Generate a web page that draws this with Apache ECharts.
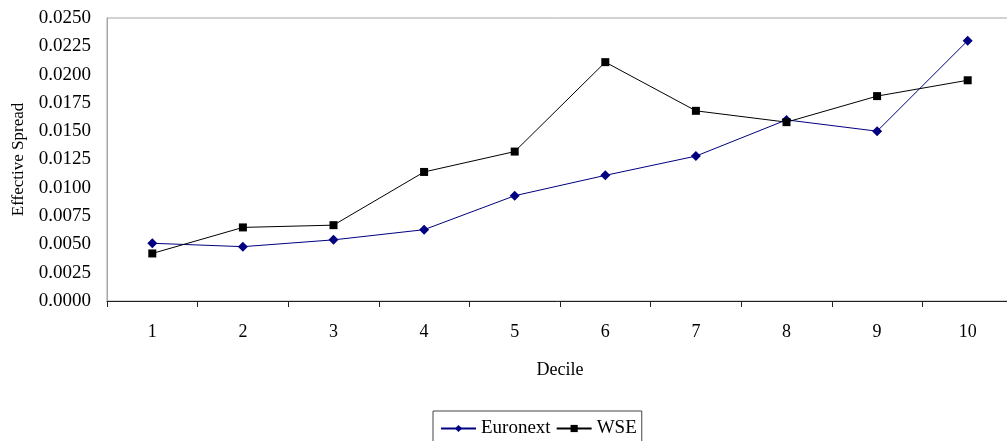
<!DOCTYPE html>
<html>
<head>
<meta charset="utf-8">
<script src="https://cdn.jsdelivr.net/npm/echarts@6/dist/echarts.min.js"></script>
<style>
html,body{margin:0;padding:0;background:#fff;}
#chart{width:1007px;height:441px;}
</style>
</head>
<body>
<div id="chart"></div>
<script>
var categories = ['1','2','3','4','5','6','7','8','9','10'];
var euronext = [0.0051, 0.0048, 0.0054, 0.0063, 0.0093, 0.0111, 0.0128, 0.0160, 0.0150, 0.0230];
var wse = [0.0042, 0.0065, 0.0067, 0.0114, 0.0132, 0.0211, 0.0168, 0.0158, 0.0181, 0.0195];
var yMin = 0, yMax = 0.025, yInterval = 0.0025;

var font = 'Liberation Serif';
var chart = echarts.init(document.getElementById('chart'), null, {renderer: 'canvas'});
chart.setOption({
  animation: false,
  backgroundColor: '#fff',
  textStyle: {fontFamily: font, color: '#000'},
  grid: {left: 107, right: -6, top: 18, bottom: 140, show: true, borderColor: '#a6a6a6', borderWidth: 1, containLabel: false, outerBoundsMode: 'none'},
  legend: {
    data: ['Euronext', 'WSE'],
    left: 433, top: 411,
    itemGap: 5,
    itemWidth: 35, itemHeight: 9,
    padding: [8, 5, 10, 7],
    borderColor: '#444', borderWidth: 1,
    textStyle: {fontFamily: font, fontSize: 19, color: '#000'}
  },
  xAxis: {
    type: 'category',
    data: categories,
    boundaryGap: true,
    name: 'Decile', nameLocation: 'middle', nameGap: 60,
    nameTextStyle: {fontFamily: font, fontSize: 18, color: '#000'},
    axisLine: {lineStyle: {color: '#222', width: 1}},
    axisTick: {show: true, alignWithLabel: false, length: 6, lineStyle: {color: '#222'}},
    axisLabel: {fontFamily: font, fontSize: 18, color: '#000', margin: 22},
    splitLine: {show: false}
  },
  yAxis: {
    type: 'value',
    min: yMin, max: yMax, interval: yInterval,
    name: 'Effective Spread', nameLocation: 'middle', nameGap: 80,
    nameTextStyle: {fontFamily: font, fontSize: 17, color: '#000'},
    axisLine: {show: true, lineStyle: {color: '#a6a6a6', width: 1}},
    axisTick: {show: false},
    axisLabel: {fontFamily: font, fontSize: 19, color: '#000', margin: 16, formatter: function(v){return v.toFixed(4);}},
    splitLine: {show: false}
  },
  series: [
    {
      name: 'Euronext', type: 'line', data: euronext,
      symbol: 'diamond', symbolSize: 10,
      itemStyle: {color: '#000080'},
      lineStyle: {color: '#000080', width: 1}
    },
    {
      name: 'WSE', type: 'line', data: wse,
      symbol: 'rect', symbolSize: 8,
      itemStyle: {color: '#000'},
      lineStyle: {color: '#000', width: 1}
    }
  ]
});
</script>
</body>
</html>
